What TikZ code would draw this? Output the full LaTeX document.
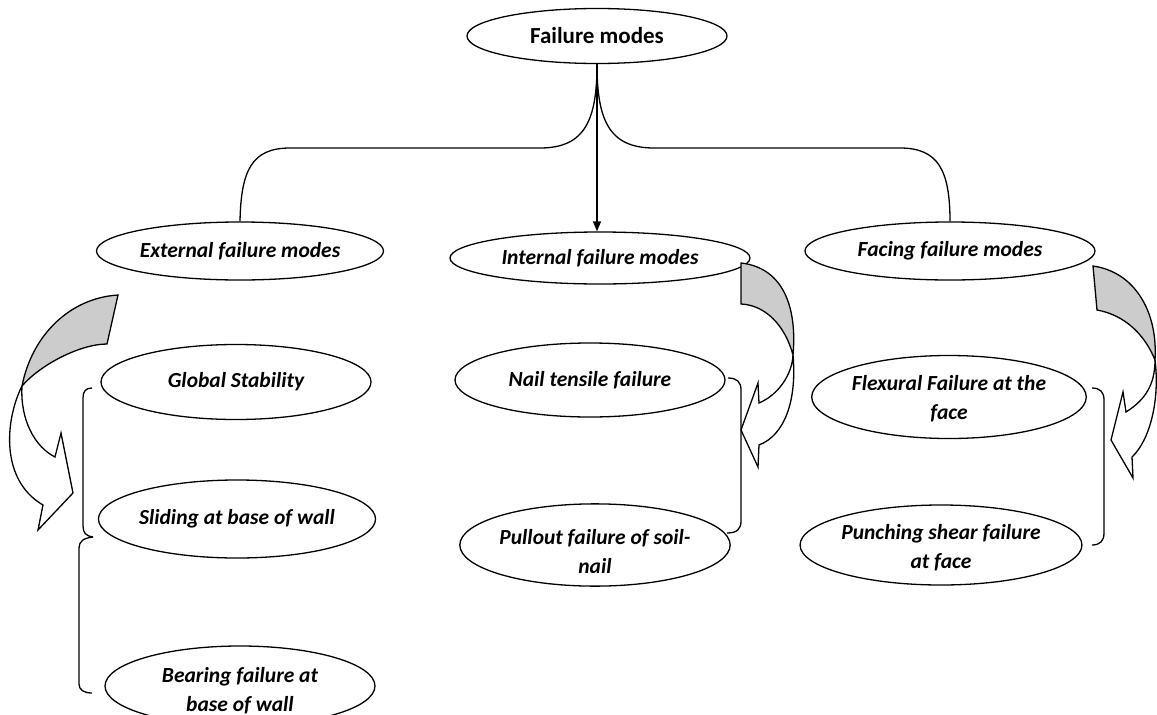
\documentclass[tikz,border=0pt]{standalone}
\usepackage{fontspec}
\setmainfont{Carlito}
\usepackage{tikz}
\usetikzlibrary{
        arrows.meta,
        shapes,
        shapes.geometric
    }
\definecolor{ribbon}{RGB}{204,204,204}
\newcommand{\dropby}[1]{\rule{0pt}{#1}}
\tikzset{>={Triangle[length=10pt,width=8pt]}}
\tikzset{
    mode/.style={draw,ellipse,inner sep=0pt,align=center,
        font=\fontsize{21.5}{29}\selectfont\bfseries\itshape},
    rootmode/.style={mode,font=\fontsize{23}{26}\selectfont\bfseries}
}

\begin{document}
\begin{tikzpicture}[x=1pt,y=-1pt,line width=1.3pt]
                \useasboundingbox (0,0) rectangle (1157,715);
                % ellipses
                \node [rootmode,minimum width=260,minimum height=55] (root) at (597,36) {Failure modes};
                \node [mode,minimum width=287,minimum height=58] (ext) at (240,251) {External failure modes};
                \node [mode,minimum width=300,minimum height=52] (int) at (600,258) {Internal failure modes};
                \node [mode,minimum width=290,minimum height=58] (fac) at (950,251) {Facing failure modes};
                \node [mode,minimum width=270,minimum height=75] (glob) at (236,382) {Global Stability};
                \node [mode,minimum width=272,minimum height=78] (slid) at (237,519) {Sliding at base of wall};
                \node [mode,minimum width=270,minimum height=80] (bear) at (240,686) {\dropby{24pt}Bearing failure at\\base of wall};
                \node [mode,minimum width=270,minimum height=74] (nail) at (590,380) {Nail tensile failure};
                \node [mode,minimum width=270,minimum height=80] (pull) at (595,545) {\dropby{29pt}Pullout failure of soil-\\nail};
                \node [mode,minimum width=268,minimum height=83] (flex) at (949,397) {\dropby{19pt}Flexural Failure at the\\face};
                \node [mode,minimum width=272,minimum height=80] (punc) at (941,545) {\dropby{21pt}Punching shear failure\\at face};
                % tree
                \draw (root.south) .. controls (597,120) and (585,148) .. (540,148) -- (290,148) .. controls (252,148) and (241,170) .. (ext.north);
                \draw (root.south) .. controls (597,120) and (609,148) .. (654,148) -- (900,148) .. controls (938,148) and (950,170) .. (fac.north);
                \draw [->] (root.south) -- (root.south |- int.north);
                % twisted arrows
                \draw [fill=ribbon] (118,295) .. controls (70,298) and (32,335) .. (22,386) .. controls (40,365) and (80,344) .. (107,344) -- cycle;
                \draw [fill=white] (22,386) .. controls (5,420) and (0,480) .. (43,505) -- (38,530) -- (73,493) -- (61,433) -- (55,457) .. controls (35,447) and (20,420) .. (22,386);
                \draw [fill=ribbon] (741,263) .. controls (785,268) and (797,310) .. (793,355) .. controls (785,325) and (765,305) .. (741,304) -- cycle;
                \draw [fill=white] (793,355) .. controls (792,375) and (778,395) .. (759,403) -- (758,383) -- (741,430) -- (758,467) -- (759,445) .. controls (785,435) and (797,400) .. (793,355);
                \draw [fill=ribbon] (1093,266) .. controls (1135,272) and (1158,312) .. (1155,360) .. controls (1145,335) and (1125,315) .. (1097,310) -- cycle;
                \draw [fill=white] (1155,360) .. controls (1155,385) and (1145,400) .. (1126,412) -- (1123,392) -- (1111,440) -- (1133,478) -- (1132,457) .. controls (1150,440) and (1160,400) .. (1155,360);
                % brackets
                \draw (92,388) .. controls (86,388) and (83,391) .. (83,398) -- (83,526) .. controls (83,533) and (86,536) .. (93,537);
                \draw (93,537) .. controls (84,538) and (79,541) .. (79,548) -- (79,684) .. controls (79,690) and (84,693) .. (92,693);
                \draw (728,378) .. controls (737,378) and (741,382) .. (741,390) -- (741,521) .. controls (741,529) and (737,533) .. (727,533);
                \draw (1092,388) .. controls (1100,388) and (1104,392) .. (1104,400) -- (1104,533) .. controls (1104,541) and (1100,545) .. (1092,545);
            \end{tikzpicture}
\end{document}
